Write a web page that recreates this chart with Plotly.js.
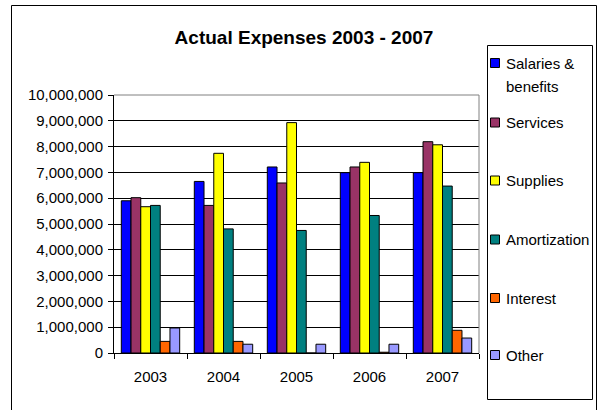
<!DOCTYPE html>
<html>
<head>
<meta charset="utf-8">
<script src="https://cdn.plot.ly/plotly-3.0.1.min.js"></script>
<style>
html,body{margin:0;padding:0;background:#fff;overflow:hidden;}
#chart{width:598px;height:410px;}
</style>
</head>
<body>
<div id="chart"></div>
<script>
var years = ["2003", "2004", "2005", "2006", "2007"];
var seriesNames = ["Salaries & benefits", "Services", "Supplies", "Amortization", "Interest", "Other"];
var legendLabels = ["Salaries &<br>benefits", "Services", "Supplies", "Amortization", "Interest", "Other"];
var salaries = [5900000, 6650000, 7210000, 6990000, 6990000];
var services = [6020000, 5720000, 6590000, 7210000, 8190000];
var supplies = [5670000, 7740000, 8930000, 7390000, 8070000];
var amortization = [5720000, 4810000, 4750000, 5330000, 6470000];
var interest = [450000, 450000, 0, 30000, 880000];
var other = [970000, 340000, 340000, 340000, 580000];
var colors = ["#0000FF", "#993366", "#FFFF00", "#008080", "#FF6600", "#9999FF"];
var yTicks = [0, 1000000, 2000000, 3000000, 4000000, 5000000, 6000000, 7000000, 8000000, 9000000, 10000000];

var FONT = "Liberation Sans, Arial, sans-serif";
var W = 598, H = 410;
var L = 114, R = 479, T = 95, B = 353;
function px(x){ return (x - L) / (R - L); }
function py(y){ return (B - y) / (B - T); }

var allValues = [salaries, services, supplies, amortization, interest, other];
var traces = allValues.map(function(vals, i){
  return {
    type: "bar",
    name: seriesNames[i],
    x: years,
    y: vals,
    marker: {color: colors[i], line: {color: "#000000", width: 1}},
    hoverinfo: "x+y+name"
  };
});

var shapes = [];
var annotations = [];
shapes.push({type:"rect", xref:"paper", yref:"paper", x0:px(11.5), x1:px(596.5), y0:py(440), y1:py(5.5),
  line:{color:"#000", width:1}, fillcolor:"rgba(0,0,0,0)", layer:"above"});
shapes.push({type:"line", xref:"paper", yref:"paper", x0:0, x1:1, y0:1, y1:1, line:{color:"#808080", width:1}, layer:"above"});
shapes.push({type:"line", xref:"paper", yref:"paper", x0:1, x1:1, y0:0, y1:1, line:{color:"#808080", width:1}, layer:"above"});
shapes.push({type:"rect", xref:"paper", yref:"paper", x0:px(487.5), x1:px(592.5), y0:py(399.5), y1:py(45.5),
  line:{color:"#000", width:1}, fillcolor:"#fff", layer:"below"});

var legendY = [63, 122.5, 180.5, 239.5, 298, 355];
legendLabels.forEach(function(lbl, i){
  var cy = legendY[i];
  shapes.push({type:"rect", xref:"paper", yref:"paper", x0:px(490.5), x1:px(499.5), y0:py(cy+4.5), y1:py(cy-4.5),
    line:{color:"#000", width:1}, fillcolor:colors[i], layer:"above"});
  var lines = lbl.split("<br>");
  lines.forEach(function(t, j){
    annotations.push({xref:"paper", yref:"paper", x:px(504), y:py(cy + j*24), xanchor:"left", yanchor:"middle",
      text:t, showarrow:false, font:{family:FONT, size:15, color:"#000"}});
  });
});

var layout = {
  width: W, height: H,
  margin: {l: L, r: W - R, t: T, b: H - B, pad: 0},
  paper_bgcolor: "#fff",
  plot_bgcolor: "#fff",
  showlegend: false,
  bargap: 0.2,
  bargroupgap: 0,
  barmode: "group",
  font: {family: FONT, size: 15, color: "#000"},
  title: {text: "<b>Actual Expenses 2003 - 2007</b>", font: {family: FONT, size: 19, color:"#000"},
    xref: "container", x: 304 / W, xanchor: "center", yref: "container", y: 1 - 37 / H, yanchor: "middle"},
  xaxis: {
    type: "category",
    showline: true, linecolor: "#000", linewidth: 1,
    ticks: "outside", tickson: "boundaries", ticklen: 5, tickcolor: "#000", tickwidth: 1,
    showgrid: false, zeroline: false,
    ticklabelstandoff: 10,
    tickfont: {size: 15}
  },
  yaxis: {
    range: [0, 10000000],
    tickvals: yTicks,
    tickformat: ",d",
    showline: true, linecolor: "#000", linewidth: 1,
    ticks: "outside", ticklen: 5, tickcolor: "#000", tickwidth: 1,
    showgrid: true, gridcolor: "#000", gridwidth: 1,
    zeroline: false,
    ticklabelstandoff: 2,
    tickfont: {size: 15}
  },
  shapes: shapes,
  annotations: annotations
};

Plotly.newPlot("chart", traces, layout, {displayModeBar: false, staticPlot: true});
</script>
</body>
</html>
